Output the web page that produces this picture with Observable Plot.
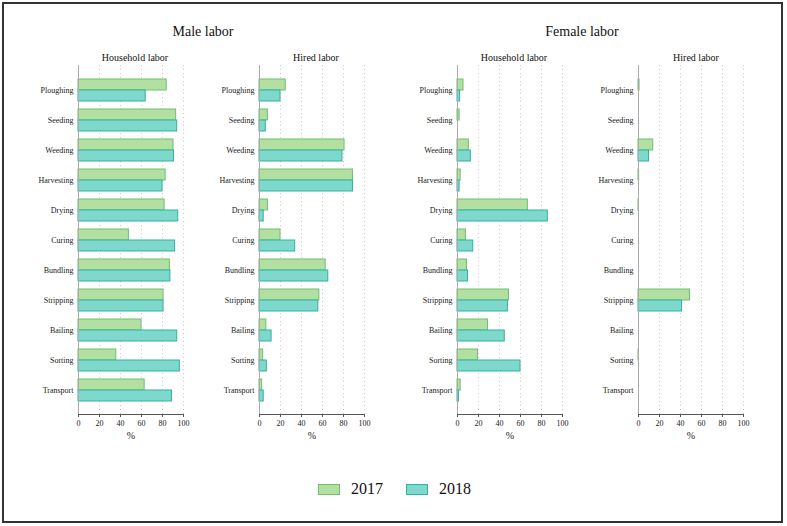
<!DOCTYPE html>
<html>
<head>
<meta charset="utf-8">
<script src="https://cdn.jsdelivr.net/npm/d3@7"></script>
<script src="https://cdn.jsdelivr.net/npm/@observablehq/plot@0.6"></script>
<style>
  body { margin: 0; background: #fff; }
  #chart { position: relative; width: 787px; height: 526px; font-family: "Liberation Serif", "Times New Roman", serif; color: #111; }
  #border { position: absolute; left: 2px; top: 2px; width: 781px; height: 521px; border: 2px solid #333; box-sizing: border-box; }
  .panel { position: absolute; top: 60px; }
  .panel text { font-family: "Liberation Serif", "Times New Roman", serif; }
  .title { position: absolute; top: 24px; font-size: 14px; transform: translateX(-50%); white-space: nowrap; }
  .subtitle { position: absolute; top: 52px; font-size: 10px; transform: translateX(-50%); white-space: nowrap; }
  .legend { position: absolute; top: 480px; font-size: 16px; display: flex; align-items: center; }
  .swatch { display: inline-block; width: 20px; height: 9px; margin-right: 11px; }
</style>
</head>
<body>
<div id="chart">
  <div id="border"></div>
  <div class="title" style="left:203px">Male labor</div>
  <div class="title" style="left:582px">Female labor</div>
  <div class="subtitle" style="left:135px">Household labor</div>
  <div class="subtitle" style="left:316px">Hired labor</div>
  <div class="subtitle" style="left:514px">Household labor</div>
  <div class="subtitle" style="left:696px">Hired labor</div>
  <div class="legend" style="left:318px">
    <span class="swatch" style="background:#b3dfa1;border:1px solid #6cc070"></span>2017
  </div>
  <div class="legend" style="left:406px">
    <span class="swatch" style="background:#7fd8cc;border:1px solid #2eb3a0"></span>2018
  </div>
</div>
<script>
// tasks along the y axis
const tasks = ["Ploughing", "Seeding", "Weeding", "Harvesting", "Drying", "Curing",
               "Bundling", "Stripping", "Bailing", "Sorting", "Transport"];
const xTicks = [0, 20, 40, 60, 80, 100];

// share of labor (%)
const maleHousehold2017 = [84, 93, 90.5, 83, 82, 48, 87, 81, 60, 36, 63];
const maleHousehold2018 = [64, 94, 91, 80, 95, 92, 87.5, 81, 94, 96.5, 89];
const maleHired2017 = [25, 8, 81, 89, 8, 20, 63, 57, 6.5, 3.5, 2.5];
const maleHired2018 = [20, 6, 79, 89, 4, 34, 65.5, 56, 11.5, 7, 4];
const femaleHousehold2017 = [5.7, 2, 10.8, 3, 67, 8, 9, 49, 29, 19.5, 3];
const femaleHousehold2018 = [2.5, 0, 12.7, 2, 86, 15, 10, 48, 45, 60, 1.5];
const femaleHired2017 = [1, 0, 14, 0.6, 0.4, 0, 0, 49, 0, 0.3, 0];
const femaleHired2018 = [0, 0, 10, 0, 0, 0, 0, 41.5, 0, 0, 0];

const toRows = (values) => values.map((v, i) => ({ task: tasks[i], value: v }));

function getPlot_Labor(v2017, v2018) {
    return Plot.plot({
        width: 190,
        height: 390,
        marginLeft: 70,
        marginRight: 15,
        marginTop: 5,
        marginBottom: 36,
        style: { fontFamily: "'Liberation Serif', 'Times New Roman', serif", color: "#222", background: "transparent" },
        x: { domain: [0, 100], axis: null },
        y: { domain: tasks, paddingInner: 0.27, paddingOuter: 0.4, axis: null },
        marks: [
            Plot.gridX({ ticks: xTicks.slice(1), stroke: "#c8c8c8", strokeOpacity: 1, strokeDasharray: "1,3" }),
            Plot.barX(toRows(v2017), { x: "value", y: "task", fill: "#b3dfa1", stroke: "#6cc070", insetBottom: 11 }),
            Plot.barX(toRows(v2018), { x: "value", y: "task", fill: "#7fd8cc", stroke: "#2eb3a0", insetTop: 11 }),
            Plot.ruleX([0], { stroke: "#aaa" }),
            Plot.frame({ anchor: "bottom", stroke: "#555" }),
            Plot.axisY({ tickSize: 0, tickPadding: 5, fontSize: 8, label: null }),
            Plot.axisX({ ticks: xTicks, tickSize: 3, tickPadding: 3, fontSize: 8, label: null, stroke: "#555" }),
            Plot.text(["%"], { frameAnchor: "bottom", dy: 24, fontSize: 10 })
        ]
    });
}

const chart = document.getElementById("chart");
const panels = [
    { left: 8, a: maleHousehold2017, b: maleHousehold2018 },
    { left: 189, a: maleHired2017, b: maleHired2018 },
    { left: 387, a: femaleHousehold2017, b: femaleHousehold2018 },
    { left: 568, a: femaleHired2017, b: femaleHired2018 }
];
for (const p of panels) {
    const svg = getPlot_Labor(p.a, p.b);
    svg.classList.add("panel");
    svg.style.left = p.left + "px";
    chart.appendChild(svg);
}
</script>
</body>
</html>
